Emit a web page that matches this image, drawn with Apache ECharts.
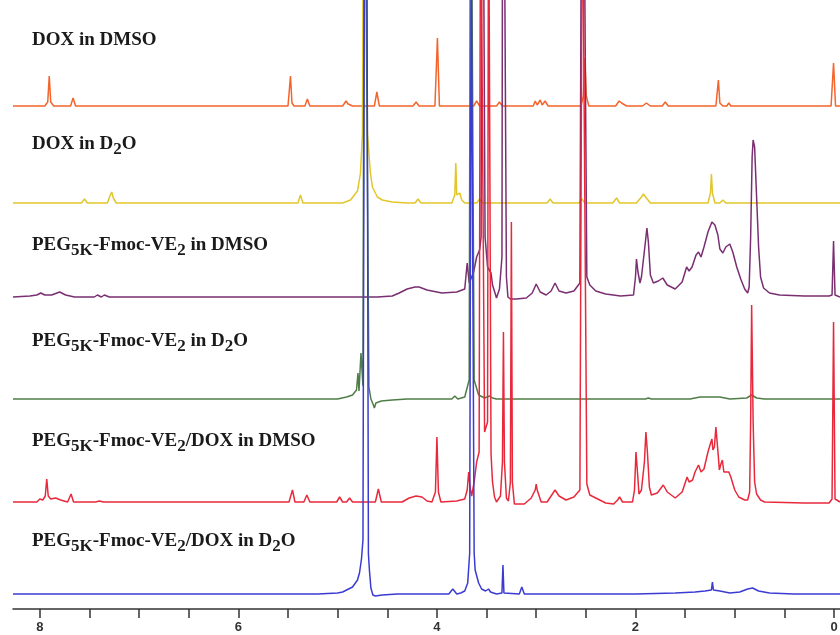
<!DOCTYPE html>
<html>
<head>
<meta charset="utf-8">
<script src="https://cdn.jsdelivr.net/npm/echarts@6/dist/echarts.min.js"></script>
<style>
  html, body { margin: 0; background: #fff; }
  #chart { width: 840px; height: 635px; }
</style>
</head>
<body>
<div id="chart"></div>
<script>
// each trace: [ppm, intensity above its own baseline]
const doxDmso = [
  [8.27, 0], [7.95, 0], [7.92, 4], [7.905, 30], [7.89, 4], [7.86, 0],
  [7.69, 0], [7.665, 8], [7.64, 0],
  [5.50, 0], [5.475, 30], [5.46, 3], [5.44, 0],
  [5.33, 0], [5.305, 7], [5.28, 0],
  [4.95, 0], [4.915, 5], [4.895, 2], [4.875, 4], [4.85, 0],
  [4.63, 0], [4.605, 14], [4.58, 0],
  [4.24, 0], [4.21, 4], [4.18, 0],
  [4.02, 0], [3.995, 68], [3.975, 0],
  [3.63, 0], [3.60, 5], [3.57, 0],
  [3.40, 0], [3.37, 4], [3.34, 0],
  [3.03, 0], [3.01, 5], [2.99, 1], [2.96, 6], [2.94, 1], [2.91, 5], [2.88, 0],
  [2.55, 0], [2.525, 10], [2.51, 48], [2.495, 10], [2.47, 0],
  [2.20, 0], [2.165, 5], [2.14, 3], [2.12, 5], [2.09, 0],
  [1.93, 0], [1.89, 3], [1.85, 0],
  [1.73, 0], [1.70, 4], [1.67, 0],
  [1.19, 0], [1.165, 26], [1.15, 3], [1.12, 0],
  [1.08, 0], [1.06, 3], [1.04, 0],
  [0.03, 0], [0.005, 43], [-0.015, 0], [-0.06, 0]
];

const doxD2o = [
  [8.27, 0], [7.58, 0], [7.55, 4], [7.52, 0],
  [7.32, 0], [7.29, 8], [7.275, 11], [7.26, 5], [7.23, 0],
  [5.40, 0], [5.375, 8], [5.35, 0],
  [4.95, 0], [4.87, 3], [4.85, 5], [4.80, 12], [4.77, 30], [4.75, 70], [4.73, 650], [4.715, 650],
  [4.70, 70], [4.67, 30], [4.65, 16], [4.60, 6], [4.55, 3], [4.45, 1], [4.30, 0],
  [4.22, 0], [4.19, 4], [4.16, 0],
  [3.85, 0], [3.82, 8], [3.81, 40], [3.80, 8], [3.77, 10], [3.75, 3], [3.72, 0],
  [3.60, 0], [3.57, 4], [3.54, 0],
  [2.89, 0], [2.86, 4], [2.83, 0],
  [2.57, 0], [2.54, 4], [2.51, 0],
  [2.23, 0], [2.19, 5], [2.16, 0],
  [1.99, 0], [1.94, 6], [1.92, 9], [1.89, 5], [1.85, 0],
  [1.27, 0], [1.245, 10], [1.235, 29], [1.225, 10], [1.20, 0],
  [1.15, 0], [1.12, 3], [1.09, 0], [-0.06, 0]
];

const pegDmso = [
  [8.27, 0], [8.10, 1], [8.03, 2], [7.99, 4], [7.95, 2], [7.88, 2], [7.80, 5], [7.74, 2], [7.65, 0],
  [7.45, 0], [7.42, 2], [7.38, 0], [7.35, 2], [7.30, 0],
  [4.60, 0], [4.45, 1], [4.38, 4], [4.30, 8], [4.22, 10], [4.18, 10], [4.10, 7], [3.95, 4],
  [3.80, 5], [3.72, 8], [3.695, 34], [3.675, 14], [3.655, 12], [3.63, 25], [3.60, 40], [3.57, 47],
  [3.555, 60], [3.545, 650], [3.53, 650], [3.515, 60], [3.49, 30], [3.455, 24], [3.44, 12],
  [3.415, 4], [3.40, -1], [3.37, 8], [3.345, 40], [3.335, 650], [3.32, 650], [3.30, 20],
  [3.285, 0], [3.26, -2], [3.20, -2], [3.10, -1],
  [3.04, 4], [3.00, 13], [2.96, 5], [2.90, 2], [2.85, 6], [2.81, 14], [2.77, 6], [2.70, 4],
  [2.62, 6], [2.56, 14], [2.535, 650], [2.515, 650], [2.49, 20], [2.46, 12], [2.40, 6],
  [2.30, 3], [2.15, 1], [2.02, 2], [2.00, 20], [1.99, 38], [1.975, 25], [1.955, 14],
  [1.94, 20], [1.90, 55], [1.885, 69], [1.87, 55], [1.85, 22], [1.82, 14], [1.77, 16],
  [1.725, 19], [1.68, 12], [1.60, 8], [1.53, 15], [1.485, 30], [1.46, 26], [1.43, 30],
  [1.39, 42], [1.365, 45], [1.34, 40], [1.31, 50], [1.27, 65], [1.23, 75], [1.20, 72],
  [1.17, 62], [1.15, 48], [1.12, 44], [1.09, 50], [1.05, 53], [1.02, 45], [0.98, 30],
  [0.94, 18], [0.90, 8], [0.87, 4], [0.855, 10], [0.84, 60], [0.825, 140], [0.815, 157],
  [0.80, 150], [0.78, 100], [0.76, 50], [0.74, 20], [0.71, 9], [0.65, 4], [0.55, 2],
  [0.30, 1], [0.05, 1], [0.02, 2], [0.005, 56], [-0.01, 2], [-0.06, 0]
];

const pegD2o = [
  [8.27, 0], [5.00, 0], [4.91, 2], [4.85, 4], [4.81, 9], [4.795, 26], [4.785, 8], [4.765, 46],
  [4.745, 13], [4.73, 650], [4.71, 650], [4.685, 12], [4.665, 0], [4.64, -6], [4.63, -9],
  [4.615, -4], [4.60, -2], [4.56, -2], [4.45, -1], [4.30, 0],
  [3.85, 0], [3.82, 3], [3.79, 0], [3.72, 2], [3.70, 4], [3.675, 19], [3.66, 650], [3.645, 650],
  [3.625, 19], [3.58, 4], [3.52, 1], [3.47, 3], [3.44, 1], [3.40, 0],
  [1.90, 0], [1.87, 1], [1.84, 0], [1.45, 0], [1.35, 2], [1.15, 2], [1.05, 0],
  [0.88, 1], [0.83, 4], [0.78, 1], [0.70, 0], [-0.06, 0]
];

const pegDoxDmso = [
  [8.27, 0], [8.03, 0], [8.00, 3], [7.97, 2], [7.945, 6], [7.93, 23], [7.915, 6], [7.89, 3],
  [7.84, 4], [7.82, 4], [7.79, 2], [7.72, 0], [7.685, 8], [7.66, 0], [7.44, 0], [7.40, 1], [7.36, 0],
  [5.49, 0], [5.455, 12], [5.43, 0],
  [5.34, 0], [5.31, 7], [5.28, 0],
  [5.01, 0], [4.98, 5], [4.95, 0], [4.91, 0], [4.88, 4], [4.85, 0],
  [4.62, 0], [4.59, 13], [4.56, 0],
  [4.35, 0], [4.28, 4], [4.21, 6], [4.15, 5], [4.10, 1], [4.05, 0],
  [4.015, 10], [4.00, 65], [3.985, 10], [3.96, 0], [3.80, 1], [3.72, 3],
  [3.695, 12], [3.68, 30], [3.665, 14], [3.65, 6], [3.625, 20], [3.60, 40], [3.575, 50],
  [3.56, 650], [3.545, 650], [3.52, 70], [3.49, 80], [3.48, 650], [3.47, 650], [3.455, 48],
  [3.44, 20], [3.42, 5], [3.40, 0], [3.36, 6], [3.34, 40], [3.33, 170], [3.32, 40],
  [3.30, 4], [3.28, 1], [3.26, 20], [3.25, 280], [3.24, 20], [3.22, -2], [3.12, -2],
  [3.05, 4], [3.01, 12], [3.00, 18], [2.99, 12], [2.95, 0], [2.89, 0], [2.85, 6],
  [2.81, 12], [2.77, 6], [2.70, 2], [2.62, 5], [2.56, 12], [2.535, 650], [2.515, 650],
  [2.49, 18], [2.46, 7], [2.40, 4], [2.30, -1], [2.22, -2], [2.18, 2], [2.16, 5], [2.13, 0],
  [2.03, 0], [2.01, 12], [1.995, 50], [1.98, 30], [1.965, 8], [1.94, 12], [1.91, 40],
  [1.895, 70], [1.88, 50], [1.86, 15], [1.84, 7], [1.78, 9], [1.72, 17], [1.68, 10],
  [1.60, 4], [1.53, 10], [1.48, 25], [1.46, 20], [1.425, 22], [1.40, 30], [1.365, 37],
  [1.34, 30], [1.31, 33], [1.27, 50], [1.24, 60], [1.23, 63], [1.22, 52], [1.205, 55],
  [1.19, 75], [1.175, 76], [1.165, 45], [1.155, 32], [1.14, 38], [1.125, 42], [1.11, 30],
  [1.09, 28], [1.06, 30], [1.04, 25], [1.00, 12], [0.96, 5], [0.90, 2], [0.87, 2],
  [0.85, 10], [0.84, 80], [0.83, 197], [0.815, 80], [0.80, 20], [0.78, 8], [0.74, 2],
  [0.70, 0], [0.30, -1], [0.05, -1], [0.02, 3], [0.005, 180], [-0.01, 3], [-0.06, 0]
];

const pegDoxD2o = [
  [8.27, 0], [5.20, 0], [5.00, 1], [4.95, 2], [4.85, 7], [4.80, 14], [4.78, 21], [4.76, 35],
  [4.745, 54], [4.73, 650], [4.705, 650], [4.69, 40], [4.68, 24], [4.665, 6], [4.645, -1],
  [4.62, -2], [4.55, -1], [4.40, 0],
  [3.88, 0], [3.84, 5], [3.80, 0], [3.76, 1], [3.72, 3], [3.69, 11], [3.67, 41], [3.655, 650],
  [3.64, 650], [3.625, 41], [3.615, 24], [3.58, 11], [3.55, 5], [3.51, 3], [3.48, 5],
  [3.46, 2], [3.40, 0], [3.345, 1], [3.335, 29], [3.325, 1], [3.17, 0], [3.145, 7], [3.12, 0],
  [2.00, 0], [1.60, 1], [1.40, 2], [1.30, 3], [1.235, 4], [1.225, 12], [1.215, 4], [1.15, 3],
  [1.05, 1], [0.95, 2], [0.87, 5], [0.82, 6], [0.76, 3], [0.65, 1], [0.40, 0], [-0.06, 0]
];

const traces = [doxDmso, doxD2o, pegDmso, pegD2o, pegDoxDmso, pegDoxD2o];
const traceNames = [
  'DOX in DMSO', 'DOX in D2O', 'PEG5K-Fmoc-VE2 in DMSO',
  'PEG5K-Fmoc-VE2 in D2O', 'PEG5K-Fmoc-VE2/DOX in DMSO', 'PEG5K-Fmoc-VE2/DOX in D2O'
];
// rich-text versions of the names, {s|..} is a subscript
const traceLabels = [
  '{b|DOX in DMSO}',
  '{b|DOX in D}{s|2}{b|O}',
  '{b|PEG}{s|5K}{b|-Fmoc-VE}{s|2}{b| in DMSO}',
  '{b|PEG}{s|5K}{b|-Fmoc-VE}{s|2}{b| in D}{s|2}{b|O}',
  '{b|PEG}{s|5K}{b|-Fmoc-VE}{s|2}{b|/DOX in DMSO}',
  '{b|PEG}{s|5K}{b|-Fmoc-VE}{s|2}{b|/DOX in D}{s|2}{b|O}'
];
const baselines = [503, 406, 312, 210, 107, 15];
const xTicks = [0, 0.5, 1, 1.5, 2, 2.5, 3, 3.5, 4, 4.5, 5, 5.5, 6, 6.5, 7, 7.5, 8];
const xLabels = [0, 2, 4, 6, 8];

const colors = ['#f4642b', '#e2c62a', '#7a2f72', '#4f7d46', '#e8293c', '#3b3bd2'];
const labelY = [40, 144, 245, 341, 441, 541];
const serif = '"Times New Roman", "Liberation Serif", serif';

const chart = echarts.init(document.getElementById('chart'));

const option = {
  animation: false,
  backgroundColor: '#fff',
  grid: { left: 13, right: 0, top: 0, bottom: 26, containLabel: false, outerBoundsMode: 'none' },
  xAxis: {
    type: 'value',
    inverse: true,
    min: -0.06,
    max: 8.27,
    axisLine: { lineStyle: { color: '#333', width: 1.5 } },
    axisTick: {
      customValues: xTicks,
      length: 9,
      lineStyle: { color: '#333', width: 1.5 }
    },
    axisLabel: {
      customValues: xLabels,
      color: '#333',
      fontSize: 13,
      fontWeight: 'bold',
      fontFamily: '"Liberation Sans", Arial, sans-serif',
      margin: 12
    },
    splitLine: { show: false }
  },
  yAxis: {
    type: 'value',
    min: 0,
    max: 609,
    show: false
  },
  graphic: traceLabels.map((t, i) => ({
    type: 'text',
    x: 32,
    y: labelY[i],
    style: {
      text: t,
      verticalAlign: 'middle',
      rich: {
        b: { fontFamily: serif, fontSize: 19, fontWeight: 'bold', fill: '#1a1a1a', lineHeight: 28 },
        s: { fontFamily: serif, fontSize: 17, fontWeight: 'bold', fill: '#1a1a1a', lineHeight: 17, verticalAlign: 'bottom' }
      }
    }
  })),
  series: traces.map((tr, i) => ({
    name: traceNames[i],
    type: 'line',
    data: tr.map(([x, y]) => [x, y + baselines[i]]),
    showSymbol: false,
    clip: true,
    lineStyle: { color: colors[i], width: 1.5 }
  }))
};

chart.setOption(option);
window.addEventListener('resize', () => chart.resize());
</script>
</body>
</html>
